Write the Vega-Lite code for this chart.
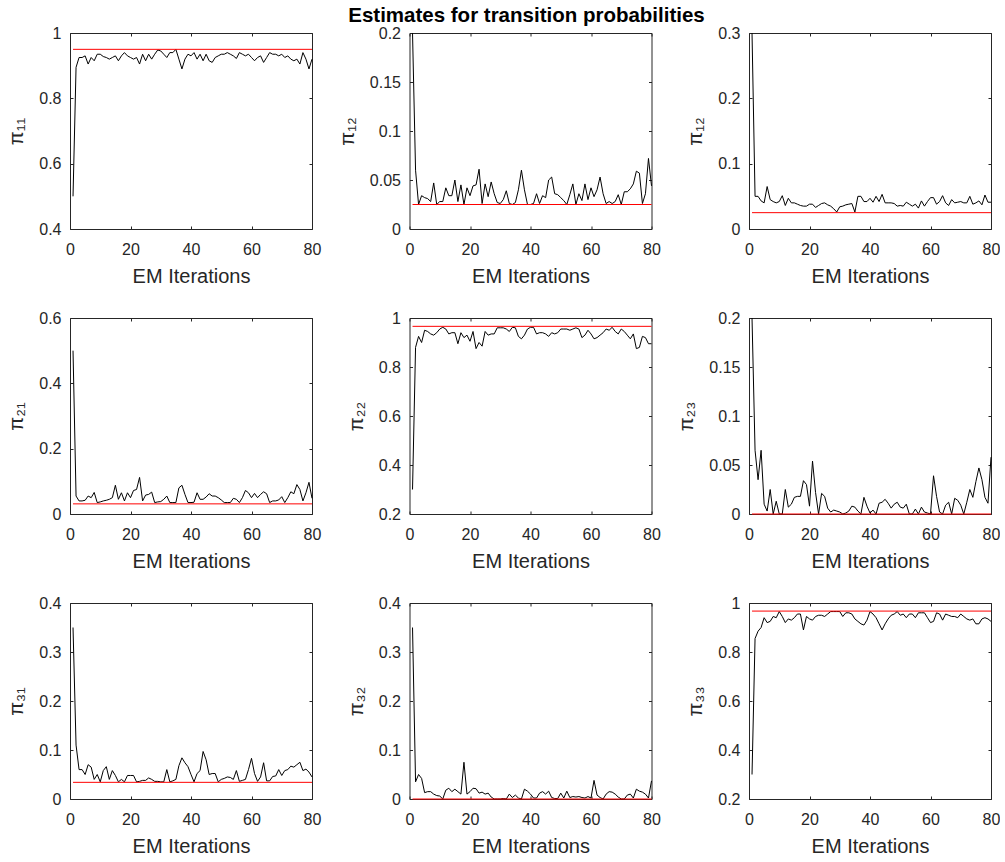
{
  "$schema": "https://vega.github.io/schema/vega-lite/v6.json",
  "background": "white",
  "padding": {"left": 6, "top": 6, "right": 0, "bottom": 0},
  "columns": 3,
  "spacing": {"row": 89, "column": 97.5},
  "bounds": "flush",
  "datasets": {
    "truth": [
      {"p": "11", "t": 0.95, "from": 1, "to": 80},
      {"p": "12", "t": 0.025, "from": 1, "to": 80},
      {"p": "13", "t": 0.025, "from": 1, "to": 80},
      {"p": "21", "t": 0.031, "from": 1, "to": 80},
      {"p": "22", "t": 0.966, "from": 1, "to": 80},
      {"p": "23", "t": 0, "from": 1, "to": 80},
      {"p": "31", "t": 0.034, "from": 1, "to": 80},
      {"p": "32", "t": 0, "from": 1, "to": 80},
      {"p": "33", "t": 0.967, "from": 1, "to": 80}
    ],
    "pi11": [
      {"i":1,"v":0.5},{"i":2,"v":0.895},{"i":3,"v":0.925},{"i":4,"v":0.925},{"i":5,"v":0.93},{"i":6,"v":0.905},{"i":7,"v":0.925},{"i":8,"v":0.915},{"i":9,"v":0.935},{"i":10,"v":0.935},
      {"i":11,"v":0.928},{"i":12,"v":0.925},{"i":13,"v":0.92},{"i":14,"v":0.925},{"i":15,"v":0.93},{"i":16,"v":0.915},{"i":17,"v":0.93},{"i":18,"v":0.94},{"i":19,"v":0.93},{"i":20,"v":0.925},
      {"i":21,"v":0.92},{"i":22,"v":0.925},{"i":23,"v":0.905},{"i":24,"v":0.935},{"i":25,"v":0.915},{"i":26,"v":0.935},{"i":27,"v":0.92},{"i":28,"v":0.935},{"i":29,"v":0.948},{"i":30,"v":0.945},
      {"i":31,"v":0.935},{"i":32,"v":0.925},{"i":33,"v":0.94},{"i":34,"v":0.94},{"i":35,"v":0.95},{"i":36,"v":0.92},{"i":37,"v":0.89},{"i":38,"v":0.92},{"i":39,"v":0.935},{"i":40,"v":0.93},
      {"i":41,"v":0.94},{"i":42,"v":0.92},{"i":43,"v":0.935},{"i":44,"v":0.915},{"i":45,"v":0.935},{"i":46,"v":0.915},{"i":47,"v":0.91},{"i":48,"v":0.925},{"i":49,"v":0.93},{"i":50,"v":0.935},
      {"i":51,"v":0.935},{"i":52,"v":0.94},{"i":53,"v":0.935},{"i":54,"v":0.93},{"i":55,"v":0.922},{"i":56,"v":0.94},{"i":57,"v":0.935},{"i":58,"v":0.93},{"i":59,"v":0.935},{"i":60,"v":0.925},
      {"i":61,"v":0.915},{"i":62,"v":0.925},{"i":63,"v":0.93},{"i":64,"v":0.91},{"i":65,"v":0.925},{"i":66,"v":0.94},{"i":67,"v":0.935},{"i":68,"v":0.935},{"i":69,"v":0.93},{"i":70,"v":0.935},
      {"i":71,"v":0.925},{"i":72,"v":0.93},{"i":73,"v":0.92},{"i":74,"v":0.915},{"i":75,"v":0.92},{"i":76,"v":0.905},{"i":77,"v":0.94},{"i":78,"v":0.92},{"i":79,"v":0.89},{"i":80,"v":0.92}
    ],
    "pi12": [
      {"i":1,"v":0.2},{"i":2,"v":0.06},{"i":3,"v":0.025},{"i":4,"v":0.034},{"i":5,"v":0.032},{"i":6,"v":0.031},{"i":7,"v":0.028},{"i":8,"v":0.047},{"i":9,"v":0.025},{"i":10,"v":0.028},
      {"i":11,"v":0.028},{"i":12,"v":0.042},{"i":13,"v":0.034},{"i":14,"v":0.034},{"i":15,"v":0.05},{"i":16,"v":0.028},{"i":17,"v":0.045},{"i":18,"v":0.025},{"i":19,"v":0.042},{"i":20,"v":0.034},
      {"i":21,"v":0.044},{"i":22,"v":0.045},{"i":23,"v":0.061},{"i":24,"v":0.026},{"i":25,"v":0.046},{"i":26,"v":0.033},{"i":27,"v":0.048},{"i":28,"v":0.036},{"i":29,"v":0.027},{"i":30,"v":0.026},
      {"i":31,"v":0.03},{"i":32,"v":0.039},{"i":33,"v":0.026},{"i":34,"v":0.025},{"i":35,"v":0.027},{"i":36,"v":0.04},{"i":37,"v":0.06},{"i":38,"v":0.04},{"i":39,"v":0.025},{"i":40,"v":0.025},
      {"i":41,"v":0.026},{"i":42,"v":0.036},{"i":43,"v":0.026},{"i":44,"v":0.034},{"i":45,"v":0.032},{"i":46,"v":0.05},{"i":47,"v":0.053},{"i":48,"v":0.036},{"i":49,"v":0.035},{"i":50,"v":0.032},
      {"i":51,"v":0.029},{"i":52,"v":0.025},{"i":53,"v":0.035},{"i":54,"v":0.046},{"i":55,"v":0.025},{"i":56,"v":0.036},{"i":57,"v":0.029},{"i":58,"v":0.046},{"i":59,"v":0.03},{"i":60,"v":0.042},
      {"i":61,"v":0.033},{"i":62,"v":0.04},{"i":63,"v":0.053},{"i":64,"v":0.036},{"i":65,"v":0.026},{"i":66,"v":0.028},{"i":67,"v":0.026},{"i":68,"v":0.028},{"i":69,"v":0.035},{"i":70,"v":0.025},
      {"i":71,"v":0.038},{"i":72,"v":0.038},{"i":73,"v":0.041},{"i":74,"v":0.046},{"i":75,"v":0.059},{"i":76,"v":0.057},{"i":77,"v":0.026},{"i":78,"v":0.036},{"i":79,"v":0.072},{"i":80,"v":0.044}
    ],
    "pi13": [
      {"i":1,"v":0.3},{"i":2,"v":0.05},{"i":3,"v":0.05},{"i":4,"v":0.043},{"i":5,"v":0.04},{"i":6,"v":0.065},{"i":7,"v":0.045},{"i":8,"v":0.042},{"i":9,"v":0.04},{"i":10,"v":0.042},
      {"i":11,"v":0.051},{"i":12,"v":0.036},{"i":13,"v":0.047},{"i":14,"v":0.04},{"i":15,"v":0.04},{"i":16,"v":0.038},{"i":17,"v":0.036},{"i":18,"v":0.035},{"i":19,"v":0.035},{"i":20,"v":0.038},
      {"i":21,"v":0.038},{"i":22,"v":0.033},{"i":23,"v":0.036},{"i":24,"v":0.039},{"i":25,"v":0.04},{"i":26,"v":0.037},{"i":27,"v":0.035},{"i":28,"v":0.031},{"i":29,"v":0.026},{"i":30,"v":0.034},
      {"i":31,"v":0.035},{"i":32,"v":0.037},{"i":33,"v":0.038},{"i":34,"v":0.039},{"i":35,"v":0.026},{"i":36,"v":0.05},{"i":37,"v":0.05},{"i":38,"v":0.042},{"i":39,"v":0.042},{"i":40,"v":0.047},
      {"i":41,"v":0.041},{"i":42,"v":0.05},{"i":43,"v":0.042},{"i":44,"v":0.053},{"i":45,"v":0.04},{"i":46,"v":0.04},{"i":47,"v":0.04},{"i":48,"v":0.039},{"i":49,"v":0.035},{"i":50,"v":0.036},
      {"i":51,"v":0.035},{"i":52,"v":0.041},{"i":53,"v":0.038},{"i":54,"v":0.035},{"i":55,"v":0.038},{"i":56,"v":0.032},{"i":57,"v":0.043},{"i":58,"v":0.035},{"i":59,"v":0.042},{"i":60,"v":0.048},
      {"i":61,"v":0.048},{"i":62,"v":0.038},{"i":63,"v":0.042},{"i":64,"v":0.051},{"i":65,"v":0.04},{"i":66,"v":0.036},{"i":67,"v":0.045},{"i":68,"v":0.04},{"i":69,"v":0.041},{"i":70,"v":0.042},
      {"i":71,"v":0.04},{"i":72,"v":0.04},{"i":73,"v":0.05},{"i":74,"v":0.038},{"i":75,"v":0.04},{"i":76,"v":0.043},{"i":77,"v":0.037},{"i":78,"v":0.052},{"i":79,"v":0.041},{"i":80,"v":0.041}
    ],
    "pi21": [
      {"i":1,"v":0.5},{"i":2,"v":0.055},{"i":3,"v":0.04},{"i":4,"v":0.04},{"i":5,"v":0.042},{"i":6,"v":0.055},{"i":7,"v":0.05},{"i":8,"v":0.066},{"i":9,"v":0.035},{"i":10,"v":0.037},
      {"i":11,"v":0.04},{"i":12,"v":0.042},{"i":13,"v":0.045},{"i":14,"v":0.05},{"i":15,"v":0.088},{"i":16,"v":0.045},{"i":17,"v":0.065},{"i":18,"v":0.04},{"i":19,"v":0.065},{"i":20,"v":0.05},
      {"i":21,"v":0.072},{"i":22,"v":0.075},{"i":23,"v":0.112},{"i":24,"v":0.04},{"i":25,"v":0.058},{"i":26,"v":0.06},{"i":27,"v":0.067},{"i":28,"v":0.035},{"i":29,"v":0.037},{"i":30,"v":0.038},
      {"i":31,"v":0.045},{"i":32,"v":0.055},{"i":33,"v":0.035},{"i":34,"v":0.035},{"i":35,"v":0.035},{"i":36,"v":0.08},{"i":37,"v":0.088},{"i":38,"v":0.06},{"i":39,"v":0.035},{"i":40,"v":0.035},
      {"i":41,"v":0.036},{"i":42,"v":0.065},{"i":43,"v":0.045},{"i":44,"v":0.045},{"i":45,"v":0.052},{"i":46,"v":0.062},{"i":47,"v":0.055},{"i":48,"v":0.055},{"i":49,"v":0.05},{"i":50,"v":0.043},
      {"i":51,"v":0.035},{"i":52,"v":0.035},{"i":53,"v":0.035},{"i":54,"v":0.048},{"i":55,"v":0.045},{"i":56,"v":0.035},{"i":57,"v":0.05},{"i":58,"v":0.072},{"i":59,"v":0.065},{"i":60,"v":0.05},
      {"i":61,"v":0.063},{"i":62,"v":0.05},{"i":63,"v":0.06},{"i":64,"v":0.068},{"i":65,"v":0.062},{"i":66,"v":0.035},{"i":67,"v":0.04},{"i":68,"v":0.04},{"i":69,"v":0.043},{"i":70,"v":0.053},
      {"i":71,"v":0.035},{"i":72,"v":0.05},{"i":73,"v":0.068},{"i":74,"v":0.062},{"i":75,"v":0.09},{"i":76,"v":0.075},{"i":77,"v":0.04},{"i":78,"v":0.065},{"i":79,"v":0.097},{"i":80,"v":0.048}
    ],
    "pi22": [
      {"i":1,"v":0.3},{"i":2,"v":0.88},{"i":3,"v":0.925},{"i":4,"v":0.9},{"i":5,"v":0.95},{"i":6,"v":0.945},{"i":7,"v":0.935},{"i":8,"v":0.93},{"i":9,"v":0.94},{"i":10,"v":0.955},
      {"i":11,"v":0.962},{"i":12,"v":0.955},{"i":13,"v":0.935},{"i":14,"v":0.94},{"i":15,"v":0.94},{"i":16,"v":0.895},{"i":17,"v":0.94},{"i":18,"v":0.92},{"i":19,"v":0.93},{"i":20,"v":0.905},
      {"i":21,"v":0.945},{"i":22,"v":0.875},{"i":23,"v":0.9},{"i":24,"v":0.885},{"i":25,"v":0.945},{"i":26,"v":0.93},{"i":27,"v":0.935},{"i":28,"v":0.935},{"i":29,"v":0.96},{"i":30,"v":0.96},
      {"i":31,"v":0.96},{"i":32,"v":0.955},{"i":33,"v":0.945},{"i":34,"v":0.962},{"i":35,"v":0.96},{"i":36,"v":0.925},{"i":37,"v":0.915},{"i":38,"v":0.93},{"i":39,"v":0.955},{"i":40,"v":0.962},
      {"i":41,"v":0.962},{"i":42,"v":0.935},{"i":43,"v":0.94},{"i":44,"v":0.94},{"i":45,"v":0.935},{"i":46,"v":0.925},{"i":47,"v":0.94},{"i":48,"v":0.935},{"i":49,"v":0.94},{"i":50,"v":0.955},
      {"i":51,"v":0.955},{"i":52,"v":0.955},{"i":53,"v":0.95},{"i":54,"v":0.955},{"i":55,"v":0.96},{"i":56,"v":0.955},{"i":57,"v":0.92},{"i":58,"v":0.93},{"i":59,"v":0.95},{"i":60,"v":0.935},
      {"i":61,"v":0.915},{"i":62,"v":0.92},{"i":63,"v":0.93},{"i":64,"v":0.94},{"i":65,"v":0.955},{"i":66,"v":0.95},{"i":67,"v":0.962},{"i":68,"v":0.945},{"i":69,"v":0.935},{"i":70,"v":0.955},
      {"i":71,"v":0.945},{"i":72,"v":0.93},{"i":73,"v":0.915},{"i":74,"v":0.935},{"i":75,"v":0.875},{"i":76,"v":0.88},{"i":77,"v":0.925},{"i":78,"v":0.92},{"i":79,"v":0.895},{"i":80,"v":0.895}
    ],
    "pi23": [
      {"i":1,"v":0.2},{"i":2,"v":0.065},{"i":3,"v":0.035},{"i":4,"v":0.065},{"i":5,"v":0.01},{"i":6,"v":0.003},{"i":7,"v":0.025},{"i":8,"v":0},{"i":9,"v":0.013},{"i":10,"v":0},
      {"i":11,"v":0},{"i":12,"v":0.025},{"i":13,"v":0.007},{"i":14,"v":0.01},{"i":15,"v":0.017},{"i":16,"v":0.018},{"i":17,"v":0.018},{"i":18,"v":0.034},{"i":19,"v":0.03},{"i":20,"v":0.008},
      {"i":21,"v":0.054},{"i":22,"v":0.022},{"i":23,"v":0},{"i":24,"v":0.021},{"i":25,"v":0.018},{"i":26,"v":0.006},{"i":27,"v":0.002},{"i":28,"v":0.004},{"i":29,"v":0.003},{"i":30,"v":0.002},
      {"i":31,"v":0},{"i":32,"v":0.001},{"i":33,"v":0.003},{"i":34,"v":0.008},{"i":35,"v":0.007},{"i":36,"v":0.003},{"i":37,"v":0},{"i":38,"v":0.017},{"i":39,"v":0.008},{"i":40,"v":0.001},
      {"i":41,"v":0.004},{"i":42,"v":0},{"i":43,"v":0.011},{"i":44,"v":0.012},{"i":45,"v":0.015},{"i":46,"v":0.011},{"i":47,"v":0.006},{"i":48,"v":0.01},{"i":49,"v":0.012},{"i":50,"v":0.007},
      {"i":51,"v":0.006},{"i":52,"v":0.01},{"i":53,"v":0},{"i":54,"v":0},{"i":55,"v":0.005},{"i":56,"v":0},{"i":57,"v":0.007},{"i":58,"v":0.002},{"i":59,"v":0.001},{"i":60,"v":0},
      {"i":61,"v":0.039},{"i":62,"v":0.018},{"i":63,"v":0.002},{"i":64,"v":0},{"i":65,"v":0.009},{"i":66,"v":0.012},{"i":67,"v":0},{"i":68,"v":0.016},{"i":69,"v":0.014},{"i":70,"v":0.009},
      {"i":71,"v":0},{"i":72,"v":0.012},{"i":73,"v":0.025},{"i":74,"v":0.017},{"i":75,"v":0.033},{"i":76,"v":0.047},{"i":77,"v":0.035},{"i":78,"v":0.017},{"i":79,"v":0.011},{"i":80,"v":0.058}
    ],
    "pi31": [
      {"i":1,"v":0.35},{"i":2,"v":0.11},{"i":3,"v":0.06},{"i":4,"v":0.06},{"i":5,"v":0.05},{"i":6,"v":0.07},{"i":7,"v":0.065},{"i":8,"v":0.04},{"i":9,"v":0.05},{"i":10,"v":0.035},
      {"i":11,"v":0.058},{"i":12,"v":0.066},{"i":13,"v":0.04},{"i":14,"v":0.058},{"i":15,"v":0.048},{"i":16,"v":0.035},{"i":17,"v":0.04},{"i":18,"v":0.035},{"i":19,"v":0.048},{"i":20,"v":0.048},
      {"i":21,"v":0.048},{"i":22,"v":0.035},{"i":23,"v":0.036},{"i":24,"v":0.038},{"i":25,"v":0.038},{"i":26,"v":0.043},{"i":27,"v":0.04},{"i":28,"v":0.036},{"i":29,"v":0.036},{"i":30,"v":0.035},
      {"i":31,"v":0.035},{"i":32,"v":0.06},{"i":33,"v":0.035},{"i":34,"v":0.037},{"i":35,"v":0.04},{"i":36,"v":0.068},{"i":37,"v":0.084},{"i":38,"v":0.074},{"i":39,"v":0.066},{"i":40,"v":0.05},
      {"i":41,"v":0.035},{"i":42,"v":0.052},{"i":43,"v":0.058},{"i":44,"v":0.097},{"i":45,"v":0.08},{"i":46,"v":0.05},{"i":47,"v":0.052},{"i":48,"v":0.052},{"i":49,"v":0.035},{"i":50,"v":0.04},
      {"i":51,"v":0.042},{"i":52,"v":0.045},{"i":53,"v":0.044},{"i":54,"v":0.04},{"i":55,"v":0.058},{"i":56,"v":0.036},{"i":57,"v":0.038},{"i":58,"v":0.04},{"i":59,"v":0.06},{"i":60,"v":0.083},
      {"i":61,"v":0.052},{"i":62,"v":0.036},{"i":63,"v":0.045},{"i":64,"v":0.074},{"i":65,"v":0.037},{"i":66,"v":0.037},{"i":67,"v":0.046},{"i":68,"v":0.047},{"i":69,"v":0.06},{"i":70,"v":0.048},
      {"i":71,"v":0.058},{"i":72,"v":0.06},{"i":73,"v":0.067},{"i":74,"v":0.065},{"i":75,"v":0.07},{"i":76,"v":0.075},{"i":77,"v":0.058},{"i":78,"v":0.061},{"i":79,"v":0.055},{"i":80,"v":0.045}
    ],
    "pi32": [
      {"i":1,"v":0.35},{"i":2,"v":0.035},{"i":3,"v":0.05},{"i":4,"v":0.042},{"i":5,"v":0.013},{"i":6,"v":0.015},{"i":7,"v":0.015},{"i":8,"v":0.01},{"i":9,"v":0.007},{"i":10,"v":0.006},
      {"i":11,"v":0},{"i":12,"v":0.018},{"i":13,"v":0.022},{"i":14,"v":0.015},{"i":15,"v":0.02},{"i":16,"v":0.015},{"i":17,"v":0.01},{"i":18,"v":0.075},{"i":19,"v":0.01},{"i":20,"v":0.015},
      {"i":21,"v":0.022},{"i":22,"v":0.021},{"i":23,"v":0.012},{"i":24,"v":0.014},{"i":25,"v":0.01},{"i":26,"v":0.012},{"i":27,"v":0.004},{"i":28,"v":0},{"i":29,"v":0},{"i":30,"v":0},
      {"i":31,"v":0.001},{"i":32,"v":0},{"i":33,"v":0.01},{"i":34,"v":0.003},{"i":35,"v":0.008},{"i":36,"v":0.002},{"i":37,"v":0},{"i":38,"v":0.02},{"i":39,"v":0.016},{"i":40,"v":0.01},
      {"i":41,"v":0.002},{"i":42,"v":0.002},{"i":43,"v":0.012},{"i":44,"v":0.015},{"i":45,"v":0.01},{"i":46,"v":0.016},{"i":47,"v":0.003},{"i":48,"v":0.001},{"i":49,"v":0.001},{"i":50,"v":0.012},
      {"i":51,"v":0.002},{"i":52,"v":0.016},{"i":53,"v":0.003},{"i":54,"v":0.005},{"i":55,"v":0.004},{"i":56,"v":0.005},{"i":57,"v":0.003},{"i":58,"v":0.002},{"i":59,"v":0.005},{"i":60,"v":0.002},
      {"i":61,"v":0.038},{"i":62,"v":0.008},{"i":63,"v":0.003},{"i":64,"v":0},{"i":65,"v":0.01},{"i":66,"v":0.015},{"i":67,"v":0.014},{"i":68,"v":0.01},{"i":69,"v":0.004},{"i":70,"v":0},
      {"i":71,"v":0},{"i":72,"v":0.008},{"i":73,"v":0.01},{"i":74,"v":0.002},{"i":75,"v":0.02},{"i":76,"v":0.016},{"i":77,"v":0.014},{"i":78,"v":0.01},{"i":79,"v":0.002},{"i":80,"v":0.037}
    ],
    "pi33": [
      {"i":1,"v":0.3},{"i":2,"v":0.855},{"i":3,"v":0.885},{"i":4,"v":0.9},{"i":5,"v":0.94},{"i":6,"v":0.92},{"i":7,"v":0.925},{"i":8,"v":0.945},{"i":9,"v":0.94},{"i":10,"v":0.965},
      {"i":11,"v":0.945},{"i":12,"v":0.92},{"i":13,"v":0.935},{"i":14,"v":0.93},{"i":15,"v":0.94},{"i":16,"v":0.955},{"i":17,"v":0.955},{"i":18,"v":0.89},{"i":19,"v":0.945},{"i":20,"v":0.935},
      {"i":21,"v":0.93},{"i":22,"v":0.945},{"i":23,"v":0.95},{"i":24,"v":0.95},{"i":25,"v":0.945},{"i":26,"v":0.955},{"i":27,"v":0.965},{"i":28,"v":0.965},{"i":29,"v":0.965},{"i":30,"v":0.965},
      {"i":31,"v":0.945},{"i":32,"v":0.96},{"i":33,"v":0.96},{"i":34,"v":0.955},{"i":35,"v":0.935},{"i":36,"v":0.925},{"i":37,"v":0.915},{"i":38,"v":0.91},{"i":39,"v":0.93},{"i":40,"v":0.965},
      {"i":41,"v":0.955},{"i":42,"v":0.94},{"i":43,"v":0.915},{"i":44,"v":0.89},{"i":45,"v":0.915},{"i":46,"v":0.935},{"i":47,"v":0.95},{"i":48,"v":0.955},{"i":49,"v":0.965},{"i":50,"v":0.95},
      {"i":51,"v":0.955},{"i":52,"v":0.94},{"i":53,"v":0.955},{"i":54,"v":0.955},{"i":55,"v":0.94},{"i":56,"v":0.96},{"i":57,"v":0.96},{"i":58,"v":0.96},{"i":59,"v":0.94},{"i":60,"v":0.92},
      {"i":61,"v":0.925},{"i":62,"v":0.96},{"i":63,"v":0.955},{"i":64,"v":0.93},{"i":65,"v":0.955},{"i":66,"v":0.95},{"i":67,"v":0.945},{"i":68,"v":0.945},{"i":69,"v":0.94},{"i":70,"v":0.955},
      {"i":71,"v":0.945},{"i":72,"v":0.935},{"i":73,"v":0.93},{"i":74,"v":0.935},{"i":75,"v":0.915},{"i":76,"v":0.915},{"i":77,"v":0.935},{"i":78,"v":0.94},{"i":79,"v":0.935},{"i":80,"v":0.925}
    ]
  },
  "concat": [
    {
      "width": 242, "height": 196,
      "layer": [
        {"data": {"name": "pi11"}, "mark": {"type": "line", "color": "#000000", "strokeWidth": 1},
         "encoding": {
           "x": {"field": "i", "type": "quantitative", "scale": {"domain": [0, 80], "nice": false}, "axis": {"title": "EM Iterations", "values": [0, 20, 40, 60, 80]}},
           "y": {"field": "v", "type": "quantitative", "scale": {"domain": [0.4, 1], "nice": false, "zero": false}, "axis": {"title": "π₁₁", "values": [0.4, 0.6, 0.8, 1], "format": "~g"}}}},
        {"data": {"name": "truth"}, "transform": [{"filter": "datum.p == '11'"}], "mark": {"type": "rule", "color": "#ff0000", "strokeWidth": 1},
         "encoding": {
           "x": {"field": "from", "type": "quantitative", "axis": {"orient": "top", "labels": false, "title": null, "values": [0, 20, 40, 60, 80]}},
           "x2": {"field": "to"},
           "y": {"field": "t", "type": "quantitative", "axis": {"orient": "right", "labels": false, "title": null, "values": [0.4, 0.6, 0.8, 1]}}}}
      ],
      "resolve": {"axis": {"x": "independent", "y": "independent"}}
    },
    {
      "width": 242, "height": 196,
      "title": {"text": "Estimates for transition probabilities", "offset": -1.5, "dx": -4, "frame": "group", "anchor": "middle"},
      "layer": [
        {"data": {"name": "pi12"}, "mark": {"type": "line", "color": "#000000", "strokeWidth": 1},
         "encoding": {
           "x": {"field": "i", "type": "quantitative", "scale": {"domain": [0, 80], "nice": false}, "axis": {"title": "EM Iterations", "values": [0, 20, 40, 60, 80]}},
           "y": {"field": "v", "type": "quantitative", "scale": {"domain": [0, 0.2], "nice": false}, "axis": {"title": "π₁₂", "values": [0, 0.05, 0.1, 0.15, 0.2], "format": "~g"}}}},
        {"data": {"name": "truth"}, "transform": [{"filter": "datum.p == '12'"}], "mark": {"type": "rule", "color": "#ff0000", "strokeWidth": 1},
         "encoding": {
           "x": {"field": "from", "type": "quantitative", "axis": {"orient": "top", "labels": false, "title": null, "values": [0, 20, 40, 60, 80]}},
           "x2": {"field": "to"},
           "y": {"field": "t", "type": "quantitative", "axis": {"orient": "right", "labels": false, "title": null, "values": [0, 0.05, 0.1, 0.15, 0.2]}}}}
      ],
      "resolve": {"axis": {"x": "independent", "y": "independent"}}
    },
    {
      "width": 242, "height": 196,
      "layer": [
        {"data": {"name": "pi13"}, "mark": {"type": "line", "color": "#000000", "strokeWidth": 1},
         "encoding": {
           "x": {"field": "i", "type": "quantitative", "scale": {"domain": [0, 80], "nice": false}, "axis": {"title": "EM Iterations", "values": [0, 20, 40, 60, 80]}},
           "y": {"field": "v", "type": "quantitative", "scale": {"domain": [0, 0.3], "nice": false}, "axis": {"title": "π₁₂", "values": [0, 0.1, 0.2, 0.3], "format": "~g"}}}},
        {"data": {"name": "truth"}, "transform": [{"filter": "datum.p == '13'"}], "mark": {"type": "rule", "color": "#ff0000", "strokeWidth": 1},
         "encoding": {
           "x": {"field": "from", "type": "quantitative", "axis": {"orient": "top", "labels": false, "title": null, "values": [0, 20, 40, 60, 80]}},
           "x2": {"field": "to"},
           "y": {"field": "t", "type": "quantitative", "axis": {"orient": "right", "labels": false, "title": null, "values": [0, 0.1, 0.2, 0.3]}}}}
      ],
      "resolve": {"axis": {"x": "independent", "y": "independent"}}
    },
    {
      "width": 242, "height": 196,
      "layer": [
        {"data": {"name": "pi21"}, "mark": {"type": "line", "color": "#000000", "strokeWidth": 1},
         "encoding": {
           "x": {"field": "i", "type": "quantitative", "scale": {"domain": [0, 80], "nice": false}, "axis": {"title": "EM Iterations", "values": [0, 20, 40, 60, 80]}},
           "y": {"field": "v", "type": "quantitative", "scale": {"domain": [0, 0.6], "nice": false}, "axis": {"title": "π₂₁", "values": [0, 0.2, 0.4, 0.6], "format": "~g"}}}},
        {"data": {"name": "truth"}, "transform": [{"filter": "datum.p == '21'"}], "mark": {"type": "rule", "color": "#ff0000", "strokeWidth": 1},
         "encoding": {
           "x": {"field": "from", "type": "quantitative", "axis": {"orient": "top", "labels": false, "title": null, "values": [0, 20, 40, 60, 80]}},
           "x2": {"field": "to"},
           "y": {"field": "t", "type": "quantitative", "axis": {"orient": "right", "labels": false, "title": null, "values": [0, 0.2, 0.4, 0.6]}}}}
      ],
      "resolve": {"axis": {"x": "independent", "y": "independent"}}
    },
    {
      "width": 242, "height": 196,
      "layer": [
        {"data": {"name": "pi22"}, "mark": {"type": "line", "color": "#000000", "strokeWidth": 1},
         "encoding": {
           "x": {"field": "i", "type": "quantitative", "scale": {"domain": [0, 80], "nice": false}, "axis": {"title": "EM Iterations", "values": [0, 20, 40, 60, 80]}},
           "y": {"field": "v", "type": "quantitative", "scale": {"domain": [0.2, 1], "nice": false, "zero": false}, "axis": {"title": "π₂₂", "values": [0.2, 0.4, 0.6, 0.8, 1], "format": "~g"}}}},
        {"data": {"name": "truth"}, "transform": [{"filter": "datum.p == '22'"}], "mark": {"type": "rule", "color": "#ff0000", "strokeWidth": 1},
         "encoding": {
           "x": {"field": "from", "type": "quantitative", "axis": {"orient": "top", "labels": false, "title": null, "values": [0, 20, 40, 60, 80]}},
           "x2": {"field": "to"},
           "y": {"field": "t", "type": "quantitative", "axis": {"orient": "right", "labels": false, "title": null, "values": [0.2, 0.4, 0.6, 0.8, 1]}}}}
      ],
      "resolve": {"axis": {"x": "independent", "y": "independent"}}
    },
    {
      "width": 242, "height": 196,
      "layer": [
        {"data": {"name": "pi23"}, "mark": {"type": "line", "color": "#000000", "strokeWidth": 1},
         "encoding": {
           "x": {"field": "i", "type": "quantitative", "scale": {"domain": [0, 80], "nice": false}, "axis": {"title": "EM Iterations", "values": [0, 20, 40, 60, 80]}},
           "y": {"field": "v", "type": "quantitative", "scale": {"domain": [0, 0.2], "nice": false}, "axis": {"title": "π₂₃", "values": [0, 0.05, 0.1, 0.15, 0.2], "format": "~g"}}}},
        {"data": {"name": "truth"}, "transform": [{"filter": "datum.p == '23'"}], "mark": {"type": "rule", "color": "#ff0000", "strokeWidth": 1},
         "encoding": {
           "x": {"field": "from", "type": "quantitative", "axis": {"orient": "top", "labels": false, "title": null, "values": [0, 20, 40, 60, 80]}},
           "x2": {"field": "to"},
           "y": {"field": "t", "type": "quantitative", "axis": {"orient": "right", "labels": false, "title": null, "values": [0, 0.05, 0.1, 0.15, 0.2]}}}}
      ],
      "resolve": {"axis": {"x": "independent", "y": "independent"}}
    },
    {
      "width": 242, "height": 196,
      "layer": [
        {"data": {"name": "pi31"}, "mark": {"type": "line", "color": "#000000", "strokeWidth": 1},
         "encoding": {
           "x": {"field": "i", "type": "quantitative", "scale": {"domain": [0, 80], "nice": false}, "axis": {"title": "EM Iterations", "values": [0, 20, 40, 60, 80]}},
           "y": {"field": "v", "type": "quantitative", "scale": {"domain": [0, 0.4], "nice": false}, "axis": {"title": "π₃₁", "values": [0, 0.1, 0.2, 0.3, 0.4], "format": "~g"}}}},
        {"data": {"name": "truth"}, "transform": [{"filter": "datum.p == '31'"}], "mark": {"type": "rule", "color": "#ff0000", "strokeWidth": 1},
         "encoding": {
           "x": {"field": "from", "type": "quantitative", "axis": {"orient": "top", "labels": false, "title": null, "values": [0, 20, 40, 60, 80]}},
           "x2": {"field": "to"},
           "y": {"field": "t", "type": "quantitative", "axis": {"orient": "right", "labels": false, "title": null, "values": [0, 0.1, 0.2, 0.3, 0.4]}}}}
      ],
      "resolve": {"axis": {"x": "independent", "y": "independent"}}
    },
    {
      "width": 242, "height": 196,
      "layer": [
        {"data": {"name": "pi32"}, "mark": {"type": "line", "color": "#000000", "strokeWidth": 1},
         "encoding": {
           "x": {"field": "i", "type": "quantitative", "scale": {"domain": [0, 80], "nice": false}, "axis": {"title": "EM Iterations", "values": [0, 20, 40, 60, 80]}},
           "y": {"field": "v", "type": "quantitative", "scale": {"domain": [0, 0.4], "nice": false}, "axis": {"title": "π₃₂", "values": [0, 0.1, 0.2, 0.3, 0.4], "format": "~g"}}}},
        {"data": {"name": "truth"}, "transform": [{"filter": "datum.p == '32'"}], "mark": {"type": "rule", "color": "#ff0000", "strokeWidth": 1},
         "encoding": {
           "x": {"field": "from", "type": "quantitative", "axis": {"orient": "top", "labels": false, "title": null, "values": [0, 20, 40, 60, 80]}},
           "x2": {"field": "to"},
           "y": {"field": "t", "type": "quantitative", "axis": {"orient": "right", "labels": false, "title": null, "values": [0, 0.1, 0.2, 0.3, 0.4]}}}}
      ],
      "resolve": {"axis": {"x": "independent", "y": "independent"}}
    },
    {
      "width": 242, "height": 196,
      "layer": [
        {"data": {"name": "pi33"}, "mark": {"type": "line", "color": "#000000", "strokeWidth": 1},
         "encoding": {
           "x": {"field": "i", "type": "quantitative", "scale": {"domain": [0, 80], "nice": false}, "axis": {"title": "EM Iterations", "values": [0, 20, 40, 60, 80]}},
           "y": {"field": "v", "type": "quantitative", "scale": {"domain": [0.2, 1], "nice": false, "zero": false}, "axis": {"title": "π₃₃", "values": [0.2, 0.4, 0.6, 0.8, 1], "format": "~g"}}}},
        {"data": {"name": "truth"}, "transform": [{"filter": "datum.p == '33'"}], "mark": {"type": "rule", "color": "#ff0000", "strokeWidth": 1},
         "encoding": {
           "x": {"field": "from", "type": "quantitative", "axis": {"orient": "top", "labels": false, "title": null, "values": [0, 20, 40, 60, 80]}},
           "x2": {"field": "to"},
           "y": {"field": "t", "type": "quantitative", "axis": {"orient": "right", "labels": false, "title": null, "values": [0.2, 0.4, 0.6, 0.8, 1]}}}}
      ],
      "resolve": {"axis": {"x": "independent", "y": "independent"}}
    }
  ],
  "config": {
    "font": "Liberation Sans",
    "view": {"stroke": null},
    "axis": {
      "grid": false,
      "domainColor": "#262626", "domainWidth": 1,
      "tickColor": "#262626", "tickWidth": 1, "tickSize": -3,
      "labelColor": "#262626", "labelFont": "Liberation Sans", "labelFontSize": 16,
      "labelFlush": false, "labelOverlap": false,
      "titleColor": "#262626", "titleFont": "Liberation Sans", "titleFontSize": 20, "titleFontWeight": "normal"
    },
    "axisBottom": {"labelPadding": 15, "titlePadding": 9},
    "axisLeft": {"labelPadding": 12, "titlePadding": 12},
    "title": {"font": "Liberation Sans", "fontSize": 20.5, "fontWeight": "bold", "color": "#000000"}
  }
}
